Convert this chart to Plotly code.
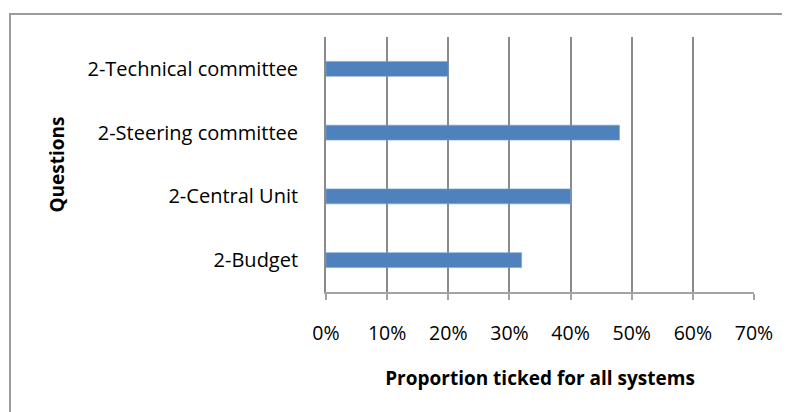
import plotly.graph_objects as go

# Data (bottom-to-top order as plotted)
questions = ["2-Budget", "2-Central Unit", "2-Steering committee", "2-Technical committee"]
proportions = [0.32, 0.40, 0.48, 0.20]
x_tick_vals = [0, 0.1, 0.2, 0.3, 0.4, 0.5, 0.6, 0.7]
x_tick_text = ["0%", "10%", "20%", "30%", "40%", "50%", "60%", "70%"]

FONT = "Open Sans, Lato, sans-serif"
GRID = "#8a8a8a"
AXIS = "#a3a3a3"

fig = go.Figure()
fig.add_trace(go.Bar(
    y=questions,
    x=proportions,
    orientation="h",
    width=0.235,
    marker=dict(color="#4f81bd", line=dict(color="#7ea3d3", width=0.6)),
    hoverinfo="x+y",
))

fig.update_layout(
    width=790,
    height=412,
    margin=dict(l=318, r=44, t=29, b=128, autoexpand=False),
    paper_bgcolor="white",
    plot_bgcolor="white",
    showlegend=False,
    font=dict(family=FONT, color="#000000", size=19),
    xaxis=dict(
        range=[0, 0.7],
        tickvals=x_tick_vals,
        ticktext=x_tick_text,
        showgrid=True,
        gridcolor=GRID,
        gridwidth=1.8,
        zeroline=False,
        showline=True,
        linecolor=AXIS,
        linewidth=2,
        ticks="outside",
        ticklen=6,
        tickcolor=AXIS,
        tickwidth=1.8,
        ticklabelstandoff=17,
        tickfont=dict(size=19.5, family=FONT),
        title=dict(text="<b>Proportion ticked for all systems</b>",
                   font=dict(size=19, family=FONT), standoff=26),
        automargin=False,
        fixedrange=True,
    ),
    yaxis=dict(
        showgrid=False,
        zeroline=False,
        showline=True,
        linecolor=GRID,
        linewidth=1.8,
        ticks="",
        ticklabelstandoff=22,
        tickfont=dict(size=20, family=FONT),
        title=dict(text="<b>Questions</b>", font=dict(size=19, family=FONT), standoff=18),
        automargin=False,
        fixedrange=True,
    ),
    shapes=[
        dict(type="rect", xref="paper", yref="paper",
             x0=(2 - 318) / 428, x1=1.2, y0=-0.6, y1=(284 - 6) / 255,
             line=dict(color="#9c9c9c", width=2), fillcolor="rgba(0,0,0,0)",
             layer="below"),
    ],
)

fig.write_html("out.html")
